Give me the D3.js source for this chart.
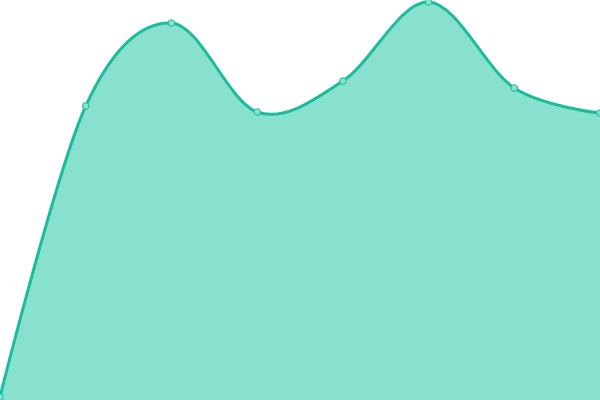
<!DOCTYPE html>
<html><head><meta charset="utf-8">
<script src="https://cdn.jsdelivr.net/npm/d3@7"></script>
<style>html,body{margin:0;padding:0;background:#fff;overflow:hidden}</style>
</head><body>
<svg id="chart" width="600" height="400"></svg>
<script>
const categories = [0, 1, 2, 3, 4, 5, 6, 7];
const values = [3, 294, 377, 288, 319, 398, 312, 287];

const W = 600, H = 400;
const svg = d3.select("#chart");
const x = d3.scaleLinear().domain([0, categories.length - 1]).range([0, W]);
const y = d3.scaleLinear().domain([0, 400]).range([H, 0]);
const data = categories.map((c, i) => ({c, v: values[i]}));

const area = d3.area().x(d => x(d.c)).y0(H).y1(d => y(d.v)).curve(d3.curveCardinal);
const line = d3.line().x(d => x(d.c)).y(d => y(d.v)).curve(d3.curveCardinal);

svg.append("path").datum(data).attr("d", area).attr("fill", "#88e0cf");
svg.append("path").datum(data).attr("d", line).attr("fill", "none")
  .attr("stroke", "#1abc9c").attr("stroke-width", 3);
svg.selectAll("circle").data(data).join("circle")
  .attr("cx", d => x(d.c)).attr("cy", d => y(d.v)).attr("r", 3.3)
  .attr("fill", "#88e0cf").attr("stroke", "#1abc9c").attr("stroke-width", 1);
</script>
</body></html>
